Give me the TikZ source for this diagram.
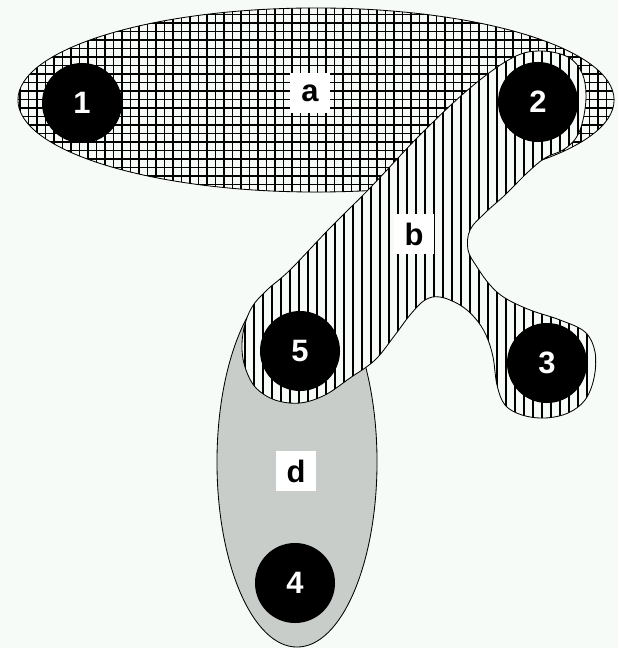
\documentclass[tikz,border=0pt]{standalone}
\usepackage{fontspec}
\setmainfont{Liberation Sans}
\usetikzlibrary{shapes.geometric}
\definecolor{Paper}{HTML}{F7FBF7}
\definecolor{Shade}{HTML}{C9CDC9}

\begin{document}
\begin{tikzpicture}[x=0.025cm, y=-0.025cm,
  vertex/.style={circle, fill=black, text=white, inner sep=0pt, minimum size=2cm,
                 font=\fontsize{22}{26}\selectfont\bfseries},
  tag/.style={fill=white, inner sep=0pt, minimum size=1.02cm,
              font=\fontsize{22}{26}\selectfont\bfseries},
  hedge/.style={draw=black, line width=0.6pt, ellipse, inner sep=0pt},
  hatch/.style={line width=1pt}]
  \fill[Paper] (0,0) rectangle (618,648);
  \useasboundingbox (0,0) rectangle (618,648);
  % grid inside a, relative to the node centre
  \node[hedge, minimum width=14.9cm, minimum height=4.6cm,
        path picture={
          \foreach \gx in {-296,-287.5,...,300} \draw[hatch] (\gx,-100) -- (\gx,100);
          \foreach \gy in {-94,-85.5,...,100} \draw[hatch] (-305,\gy) -- (305,\gy);
        }] (ea) at (316,100) {};
  \node[hedge, fill=Shade, minimum width=4cm, minimum height=9.25cm] (ed) at (297,462) {};
  \draw[line width=0.6pt, fill=Paper,
        path picture={
          \foreach \sx in {236,245,...,600} \draw[hatch] (\sx,40) -- (\sx,430);
        }]
    plot[smooth cycle, tension=0.6] coordinates {
      (512,58) (540,51) (568,57) (582,73) (586,95) (583,120) (576,138) (563,150)
      (545,158) (527,173) (505,195) (485,213) (470,230) (468,250) (477,267)
      (490,285) (505,298) (530,310) (560,320) (585,332) (595,352) (594,378)
      (585,400) (568,413) (545,418) (522,415) (505,405) (497,385) (493,357)
      (486,335) (475,318) (460,305) (440,297) (425,300) (410,315) (395,335)
      (375,360) (350,378) (325,395) (300,403) (275,400) (256,388) (246,370)
      (242,350) (244,328) (252,307) (267,290) (290,270) (330,228) (370,188)
      (420,135) (470,88)};
  \node[vertex] (v1) at (82,103) {1};
  \node[vertex] (v2) at (538,102) {2};
  \node[vertex] (v3) at (547,363) {3};
  \node[vertex] (v4) at (295,583) {4};
  \node[vertex] (v5) at (300,351) {5};
  \node[tag] (la) at (310,93) {a};
  \node[tag] (lb) at (414,234) {b};
  \node[tag] (ld) at (296,471) {d};
\end{tikzpicture}
\end{document}
